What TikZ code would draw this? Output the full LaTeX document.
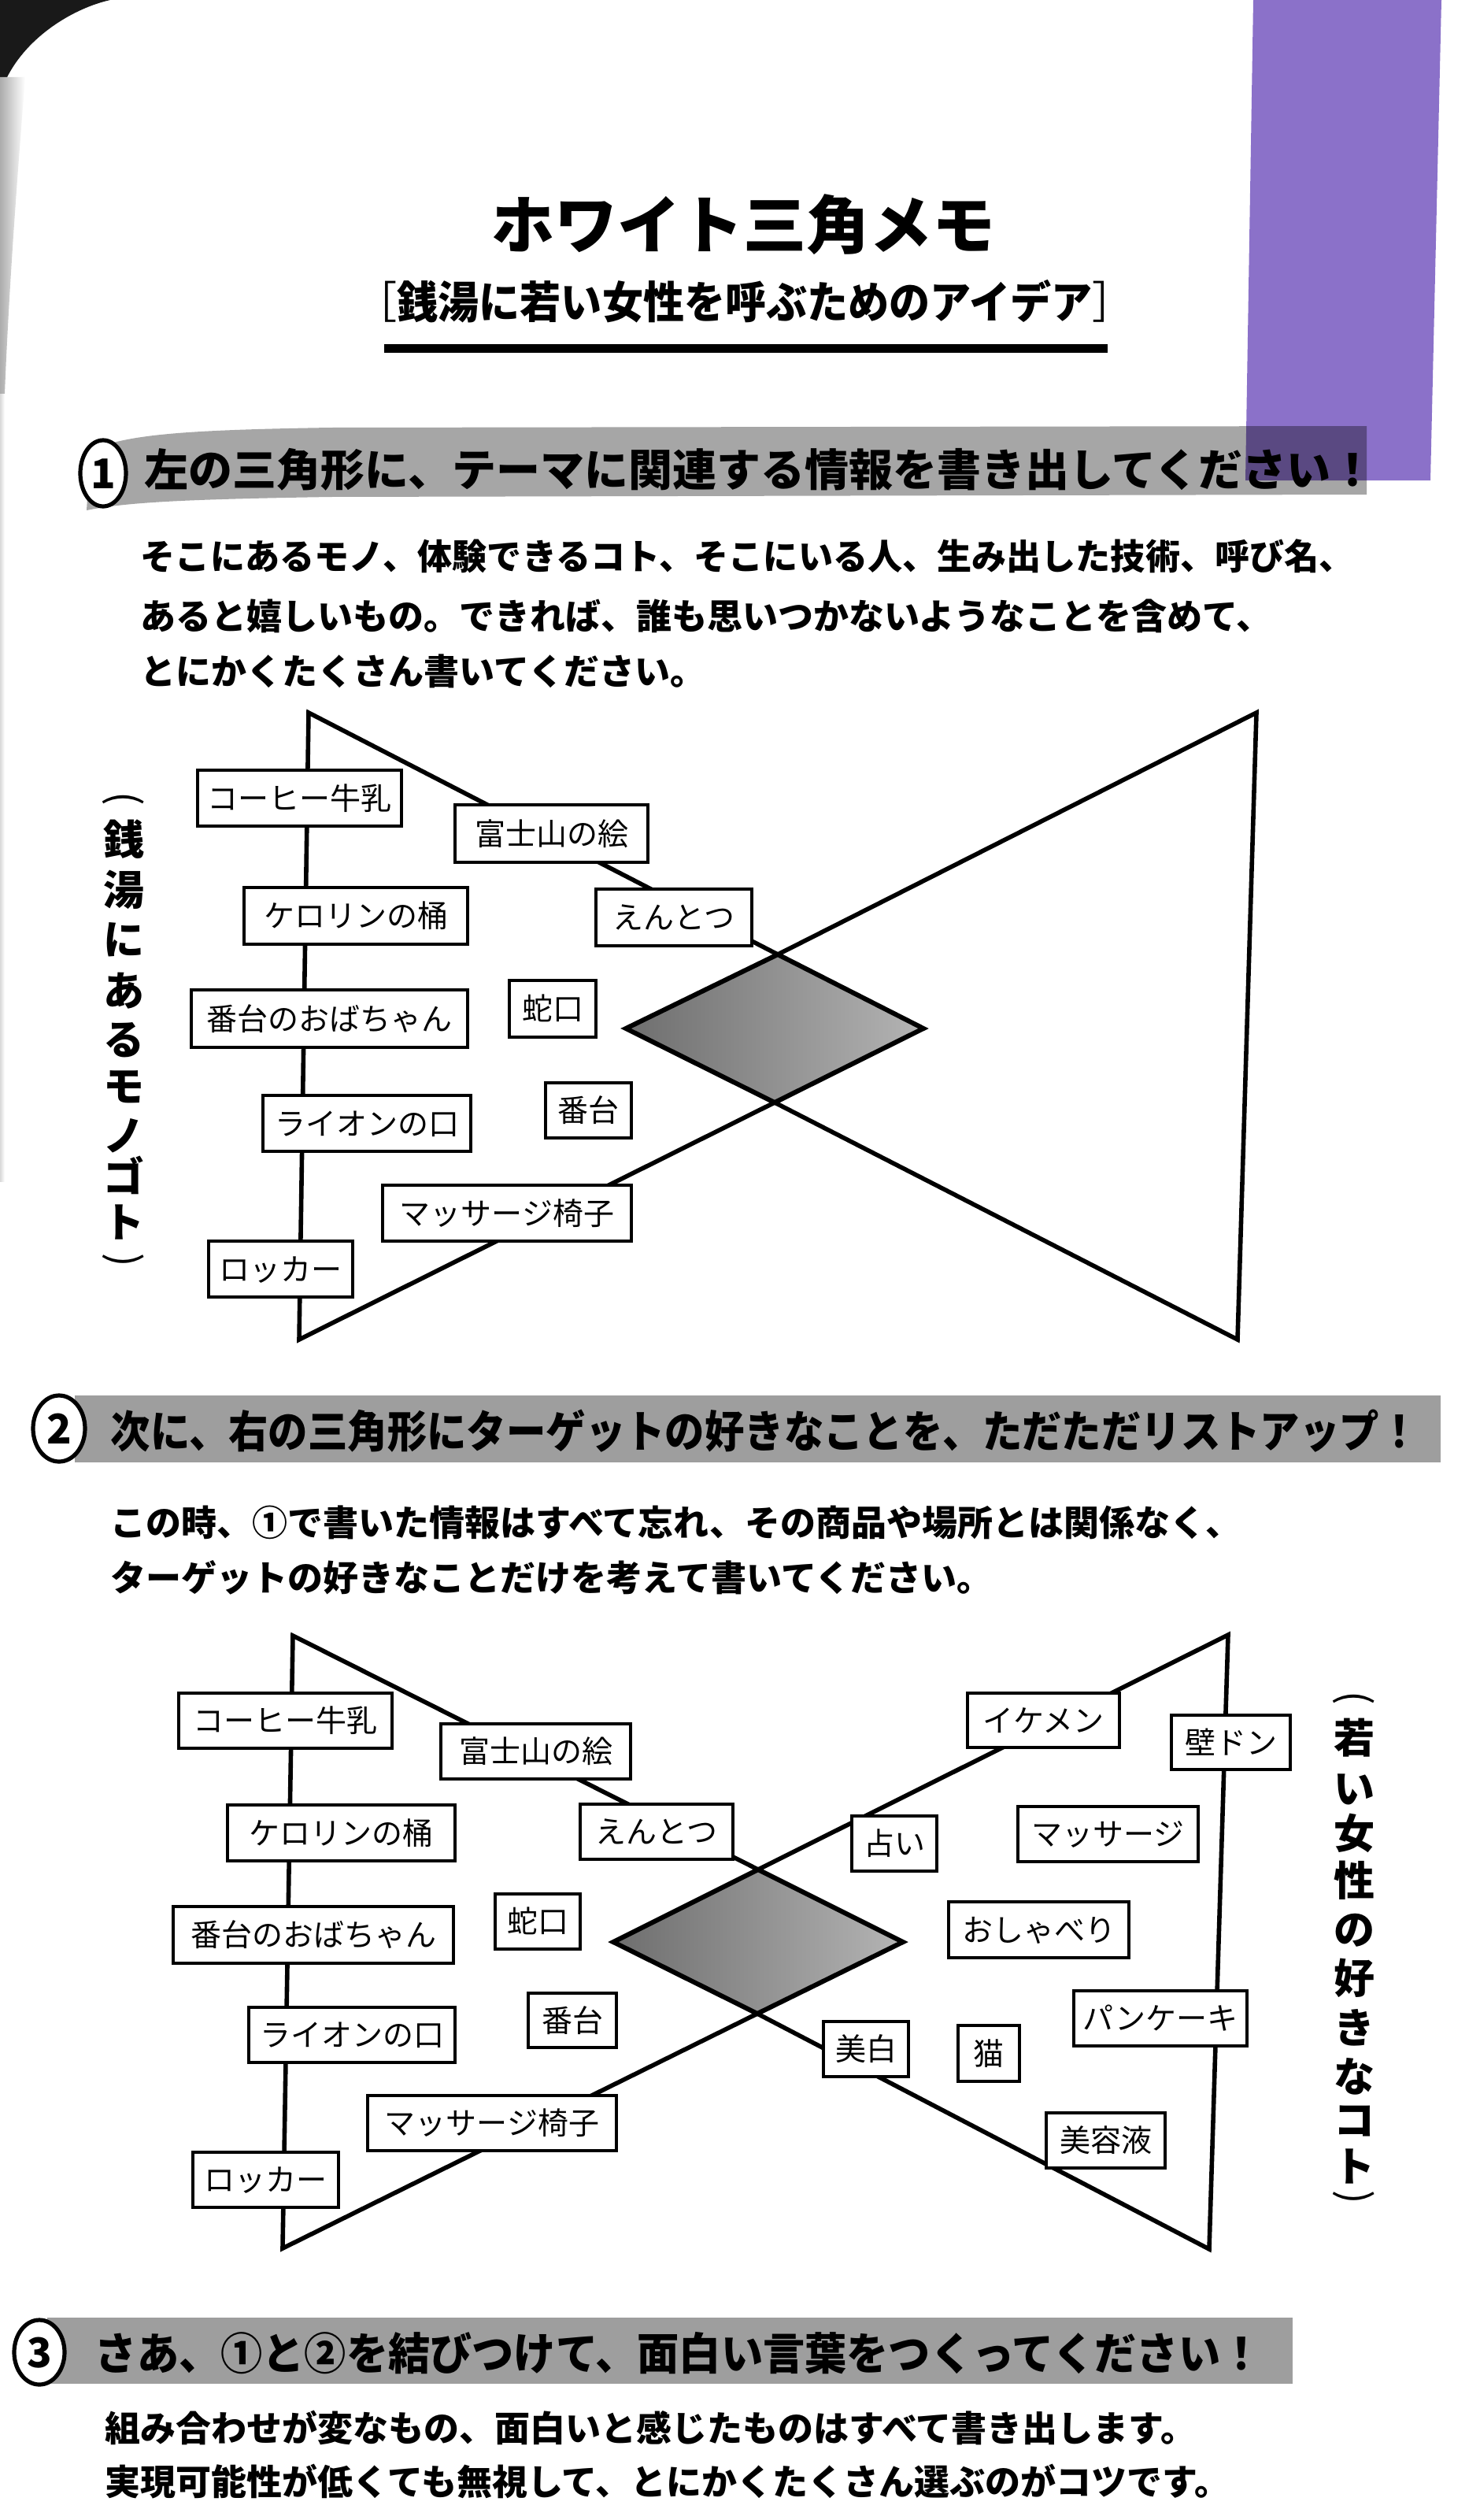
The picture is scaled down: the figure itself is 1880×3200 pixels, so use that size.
\documentclass[tikz,border=0pt]{standalone}
\usepackage{fontspec}
\usepackage{graphicx}
\setmainfont{Noto Sans CJK JP}
\usetikzlibrary{shapes.geometric}

\definecolor{tabpurple}{HTML}{8B71C9}
\definecolor{bandA}{HTML}{A6A6A6}
\definecolor{bandB}{HTML}{9E9E9E}
\definecolor{dialeft}{HTML}{6E6E6E}
\definecolor{diaright}{HTML}{B4B4B4}

% font size given in pt
\newcommand\fs[1]{\fontsize{#1}{#1}\selectfont}
% vertical-writing parentheses
\newcommand\vopen{\rotatebox[origin=c]{-90}{(}}
\newcommand\vclose{\rotatebox[origin=c]{-90}{)}}

\tikzset{
  edge/.style={line width=1.4pt, line join=miter},
  diaborder/.style={line width=1.5pt, line join=miter},
  item/.style={draw, line width=1.2pt, fill=white, inner sep=0pt,
    font=\fs{9.75}, text height=8.6pt, text depth=1.2pt},
  numcirc/.style={ellipse, draw, line width=1.3pt, fill=white, inner sep=0pt,
    font=\bfseries\fs{13}, text height=9.5pt, text depth=0pt},
  body/.style={anchor=base west, inner sep=0pt, font=\bfseries\fs{11.25}},
  bandtxt/.style={anchor=base west, inner sep=0pt, font=\bfseries\fs{14}},
  vch/.style={inner sep=0pt, font=\bfseries\fs{13}, text height=11.4pt, text depth=1.6pt},
  vpar/.style={inner sep=0pt, font=\fs{13}},
}

% labelled box: name, x1, y1, x2, y2, text
\newcommand\itembox[6]{%
  \node[item, minimum width={(#4-#2)*0.25pt}, minimum height={(#5-#3)*0.25pt}]
    (#1) at ({(#2+#4)/2},{(#3+#5)/2}) {#6};}

\begin{document}
\begin{tikzpicture}[x=0.25pt, y=-0.25pt]
\useasboundingbox (0,0) rectangle (1880,3200);
\fill[white] (0,0) rectangle (1880,3200);

% page edge
\fill[black!90] (0,0) -- (140,0) .. controls (95,10) and (35,45) .. (8,100) -- (0,100) -- cycle;
\shade[left color=gray!65, right color=white] (0,98) -- (32,98) .. controls (24,200) and (12,350) .. (6,500) -- (0,500) -- cycle;
\shade[left color=gray!30, right color=white] (0,500) rectangle (6,1500);

% title
\node[anchor=base, inner sep=0pt, font=\bfseries\fs{20}] (title) at (944,315) {ホワイト三角メモ};
\node[anchor=base, inner sep=0pt, font=\bfseries\fs{14}] (subtitle) at (946,404)
  {\scalebox{0.93}[1]{{\mdseries［}銭湯に若い女性を呼ぶためのアイデア{\mdseries］}}};
\fill[black] (488,437) rectangle (1407,448);

% ---------- step 1 ----------
\fill[bandA] (115,572) .. controls (160,552) and (230,546) .. (420,543) -- (1736,541)
  -- (1736,628) -- (420,631) .. controls (230,634) and (160,638) .. (110,648) -- cycle;
\node[numcirc, minimum width=14.5pt, minimum height=21pt] (n1) at (131,601) {1};
\node[bandtxt] (h1) at (183,617) {左の三角形に、テーマに関連する情報を書き出してください！};

\node[body] (t11) at (178,723) {\scalebox{0.98}[1]{そこにあるモノ、体験できるコト、そこにいる人、生み出した技術、呼び名、}};
\node[body] (t12) at (178,799) {あると嬉しいもの。できれば、誰も思いつかないようなことを含めて、};
\node[body] (t13) at (178,869) {とにかくたくさん書いてください。};

\coordinate (tl1) at (392,905);
\coordinate (bl1) at (380,1701);
\coordinate (tr1) at (1596,905);
\coordinate (br1) at (1572,1701);
\coordinate (dt1) at (988,1212);
\coordinate (db1) at (984,1400);
\coordinate (dl1) at (795,1306);
\coordinate (dr1) at (1173,1306);
\draw[edge] (dt1) -- (tl1) -- (bl1) -- (db1) -- (br1) -- (tr1) -- cycle;
\shade[left color=dialeft, right color=diaright] (dl1) -- (dt1) -- (dr1) -- (db1) -- cycle;
\draw[diaborder] (dl1) -- (dt1) -- (dr1) -- (db1) -- cycle;

\itembox{a1}{251}{978}{510}{1049}{コーヒー牛乳}
\itembox{a2}{578}{1022}{823}{1095}{富士山の絵}
\itembox{a3}{310}{1127}{594}{1199}{ケロリンの桶}
\itembox{a4}{757}{1129}{955}{1201}{えんとつ}
\itembox{a5}{647}{1245}{757}{1317}{蛇口}
\itembox{a6}{243}{1257}{594}{1330}{番台のおばちゃん}
\itembox{a7}{693}{1375}{802}{1445}{番台}
\itembox{a8}{334}{1391}{598}{1462}{ライオンの口}
\itembox{a9}{486}{1505}{802}{1576}{マッサージ椅子}
\itembox{a10}{265}{1576}{448}{1647}{ロッカー}

\node[vpar] (la0) at (157,1018) {\vopen};
\foreach \ch/\yy [count=\i] in {銭/1066, 湯/1130, に/1193, あ/1258, る/1320, モ/1379, ノ/1442, ゴ/1494, ト/1552}
  \node[vch] (la\i) at (157,\yy) {\ch};
\node[vpar] (la10) at (157,1604) {\vclose};

% ---------- step 2 ----------
\fill[bandB] (95,1772) rectangle (1830,1857);
\node[numcirc, minimum width=16.5pt, minimum height=21pt] (n2) at (75,1814) {2};
\node[bandtxt] (h2) at (140,1838) {\scalebox{0.9}[1]{次に、右の三角形にターゲットの好きなことを、ただただリストアップ！}};

\node[body] (t21) at (140,1950) {この時、①で書いた情報はすべて忘れ、その商品や場所とは関係なく、};
\node[body] (t22) at (140,2020) {ターゲットの好きなことだけを考えて書いてください。};

\coordinate (tl2) at (372,2077);
\coordinate (bl2) at (359,2855);
\coordinate (tr2) at (1560,2076);
\coordinate (br2) at (1536,2856);
\coordinate (dt2) at (963,2374);
\coordinate (db2) at (962,2557);
\coordinate (dl2) at (779,2466);
\coordinate (dr2) at (1147,2466);
\draw[edge] (dt2) -- (tl2) -- (bl2) -- (db2) -- (br2) -- (tr2) -- cycle;
\shade[left color=dialeft, right color=diaright] (dl2) -- (dt2) -- (dr2) -- (db2) -- cycle;
\draw[diaborder] (dl2) -- (dt2) -- (dr2) -- (db2) -- cycle;

\itembox{b1}{227}{2150}{498}{2220}{コーヒー牛乳}
\itembox{b2}{560}{2189}{801}{2259}{富士山の絵}
\itembox{b3}{289}{2292}{578}{2363}{ケロリンの桶}
\itembox{b4}{737}{2291}{931}{2361}{えんとつ}
\itembox{b5}{629}{2405}{737}{2475}{蛇口}
\itembox{b6}{220}{2421}{576}{2493}{番台のおばちゃん}
\itembox{b7}{671}{2531}{783}{2600}{番台}
\itembox{b8}{316}{2549}{578}{2619}{ライオンの口}
\itembox{b9}{467}{2661}{783}{2731}{マッサージ椅子}
\itembox{b10}{245}{2733}{430}{2803}{ロッカー}

\itembox{c1}{1229}{2150}{1422}{2219}{イケメン}
\itembox{c2}{1488}{2178}{1639}{2247}{壁ドン}
\itembox{c3}{1082}{2306}{1190}{2376}{占い}
\itembox{c4}{1293}{2294}{1522}{2364}{マッサージ}
\itembox{c5}{1205}{2415}{1434}{2486}{おしゃべり}
\itembox{c6}{1364}{2528}{1584}{2598}{パンケーキ}
\itembox{c7}{1046}{2567}{1154}{2637}{美白}
\itembox{c8}{1217}{2572}{1295}{2643}{猫}
\itembox{c9}{1329}{2683}{1480}{2753}{美容液}

\node[vpar] (lb0) at (1720,2160) {\vopen};
\foreach \ch/\yy [count=\i] in {若/2207, い/2271, 女/2328, 性/2388, の/2450, 好/2512, き/2575, な/2637, コ/2692, ト/2751}
  \node[vch] (lb\i) at (1720,\yy) {\ch};
\node[vpar] (lb11) at (1720,2794) {\vclose};

% ---------- step 3 ----------
\fill[bandB] (60,2943) rectangle (1642,3027);
\node[numcirc, minimum width=16pt, minimum height=20.5pt] (n3) at (50,2987) {3};
\node[bandtxt] (h3) at (120,3009) {\scalebox{0.95}[1]{さあ、①と②を結びつけて、面白い言葉をつくってください！}};

\node[body] (t31) at (133,3100) {組み合わせが変なもの、面白いと感じたものはすべて書き出します。};
\node[body] (t32) at (133,3168) {実現可能性が低くても無視して、とにかくたくさん選ぶのがコツです。};

% index tab
\fill[tabpurple, blend mode=multiply] (1592,0) -- (1831,0) -- (1817,610) -- (1582,610) -- cycle;
\end{tikzpicture}
\end{document}
